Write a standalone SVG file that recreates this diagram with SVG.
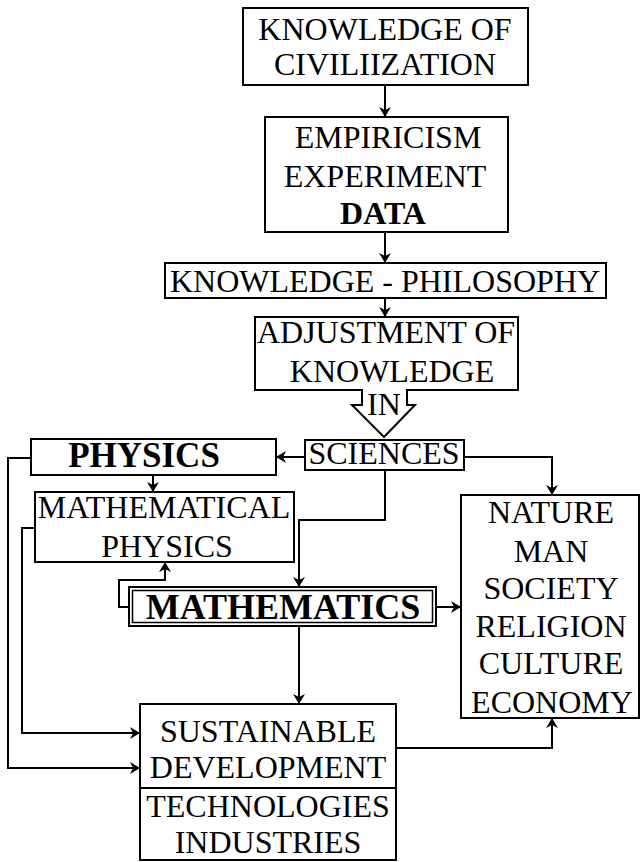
<svg xmlns="http://www.w3.org/2000/svg" width="641" height="862" viewBox="0 0 641 862">
  <style>
    .box { fill: #ffffff; stroke: #000000; stroke-width: 2; }
    .edge { fill: none; stroke: #000000; stroke-width: 2; marker-end: url(#head); }
    text { font-size: 32px; fill: #000000; text-anchor: middle; }
    .bold { font-weight: bold; }
  </style>
  <defs>
    <marker id="head" markerUnits="userSpaceOnUse" markerWidth="11" markerHeight="12" refX="10" refY="6" orient="auto">
      <path d="M0,0 L10,6 L0,12 L3,6 z" fill="#000000"/>
    </marker>
  </defs>
  <rect width="641" height="862" fill="#ffffff"/>

  <!-- connectors -->
  <g id="connectors">
    <path class="edge" d="M385,85 V117"/>
    <path class="edge" d="M385,232 V263"/>
    <path class="edge" d="M385,298 V317"/>
    <path class="edge" d="M305,457 H276"/>
    <path class="edge" d="M153,475 V492"/>
    <path class="edge" d="M385,470 V520 H299 V587"/>
    <path class="edge" d="M129,607 H119 V580 H165 V562"/>
    <path class="edge" d="M436,607 H461"/>
    <path class="edge" d="M299,626 V704"/>
    <path class="edge" d="M464,457 H552 V495"/>
    <path class="edge" d="M396,748 H552 V718"/>
    <path class="edge" d="M31,458 H8 V768 H140"/>
    <path class="edge" d="M35,528 H22 V733 H140"/>
  </g>

  <g font-family="'Liberation Serif', 'DejaVu Serif', serif">
  <g id="civilization">
    <rect class="box" x="243" y="8" width="285" height="77"/>
    <text x="385" y="40">KNOWLEDGE OF</text>
    <text x="385" y="75">CIVILIIZATION</text>
  </g>

  <g id="empiricism">
    <rect class="box" x="265" y="117" width="243" height="115"/>
    <text x="388" y="148">EMPIRICISM</text>
    <text x="385" y="187">EXPERIMENT</text>
    <text class="bold" x="383" y="224">DATA</text>
  </g>

  <g id="philosophy">
    <rect class="box" x="165" y="263" width="441" height="35"/>
    <text x="385" y="292">KNOWLEDGE - PHILOSOPHY</text>
  </g>

  <g id="adjustment">
    <polygon class="box" points="255,317 518,317 518,390 407,390 407,405 415,405 384,437 352,405 362,405 362,390 255,390"/>
    <text x="386" y="343">ADJUSTMENT OF</text>
    <text x="392" y="382">KNOWLEDGE</text>
    <text x="384" y="415">IN</text>
  </g>

  <g id="sciences">
    <rect class="box" x="305" y="440" width="159" height="30"/>
    <text x="384" y="464">SCIENCES</text>
  </g>

  <g id="physics">
    <rect class="box" x="31" y="439" width="245" height="36"/>
    <text class="bold" x="144" y="467" style="font-size:35px">PHYSICS</text>
  </g>

  <g id="mathematical-physics">
    <rect class="box" x="35" y="492" width="259" height="70"/>
    <text x="164" y="518">MATHEMATICAL</text>
    <text x="167" y="557">PHYSICS</text>
  </g>

  <g id="mathematics">
    <rect class="box" x="129" y="587" width="307" height="39"/>
    <rect fill="none" stroke="#000000" stroke-width="1.5" x="132.5" y="590.5" width="300" height="32"/>
    <text class="bold" x="283" y="619" style="font-size:36px">MATHEMATICS</text>
  </g>

  <g id="nature">
    <rect class="box" x="461" y="495" width="178" height="223"/>
    <text x="551" y="523">NATURE</text>
    <text x="551" y="562">MAN</text>
    <text x="551" y="599">SOCIETY</text>
    <text x="551" y="637">RELIGION</text>
    <text x="551" y="674">CULTURE</text>
    <text x="552" y="713">ECONOMY</text>
  </g>

  <g id="sustainable">
    <rect class="box" x="140" y="704" width="256" height="84"/>
    <text x="268" y="742">SUSTAINABLE</text>
    <text x="268" y="778">DEVELOPMENT</text>
  </g>

  <g id="technologies">
    <rect class="box" x="140" y="788" width="256" height="72"/>
    <text x="268" y="817">TECHNOLOGIES</text>
    <text x="268" y="853">INDUSTRIES</text>
  </g>
  </g>
</svg>
